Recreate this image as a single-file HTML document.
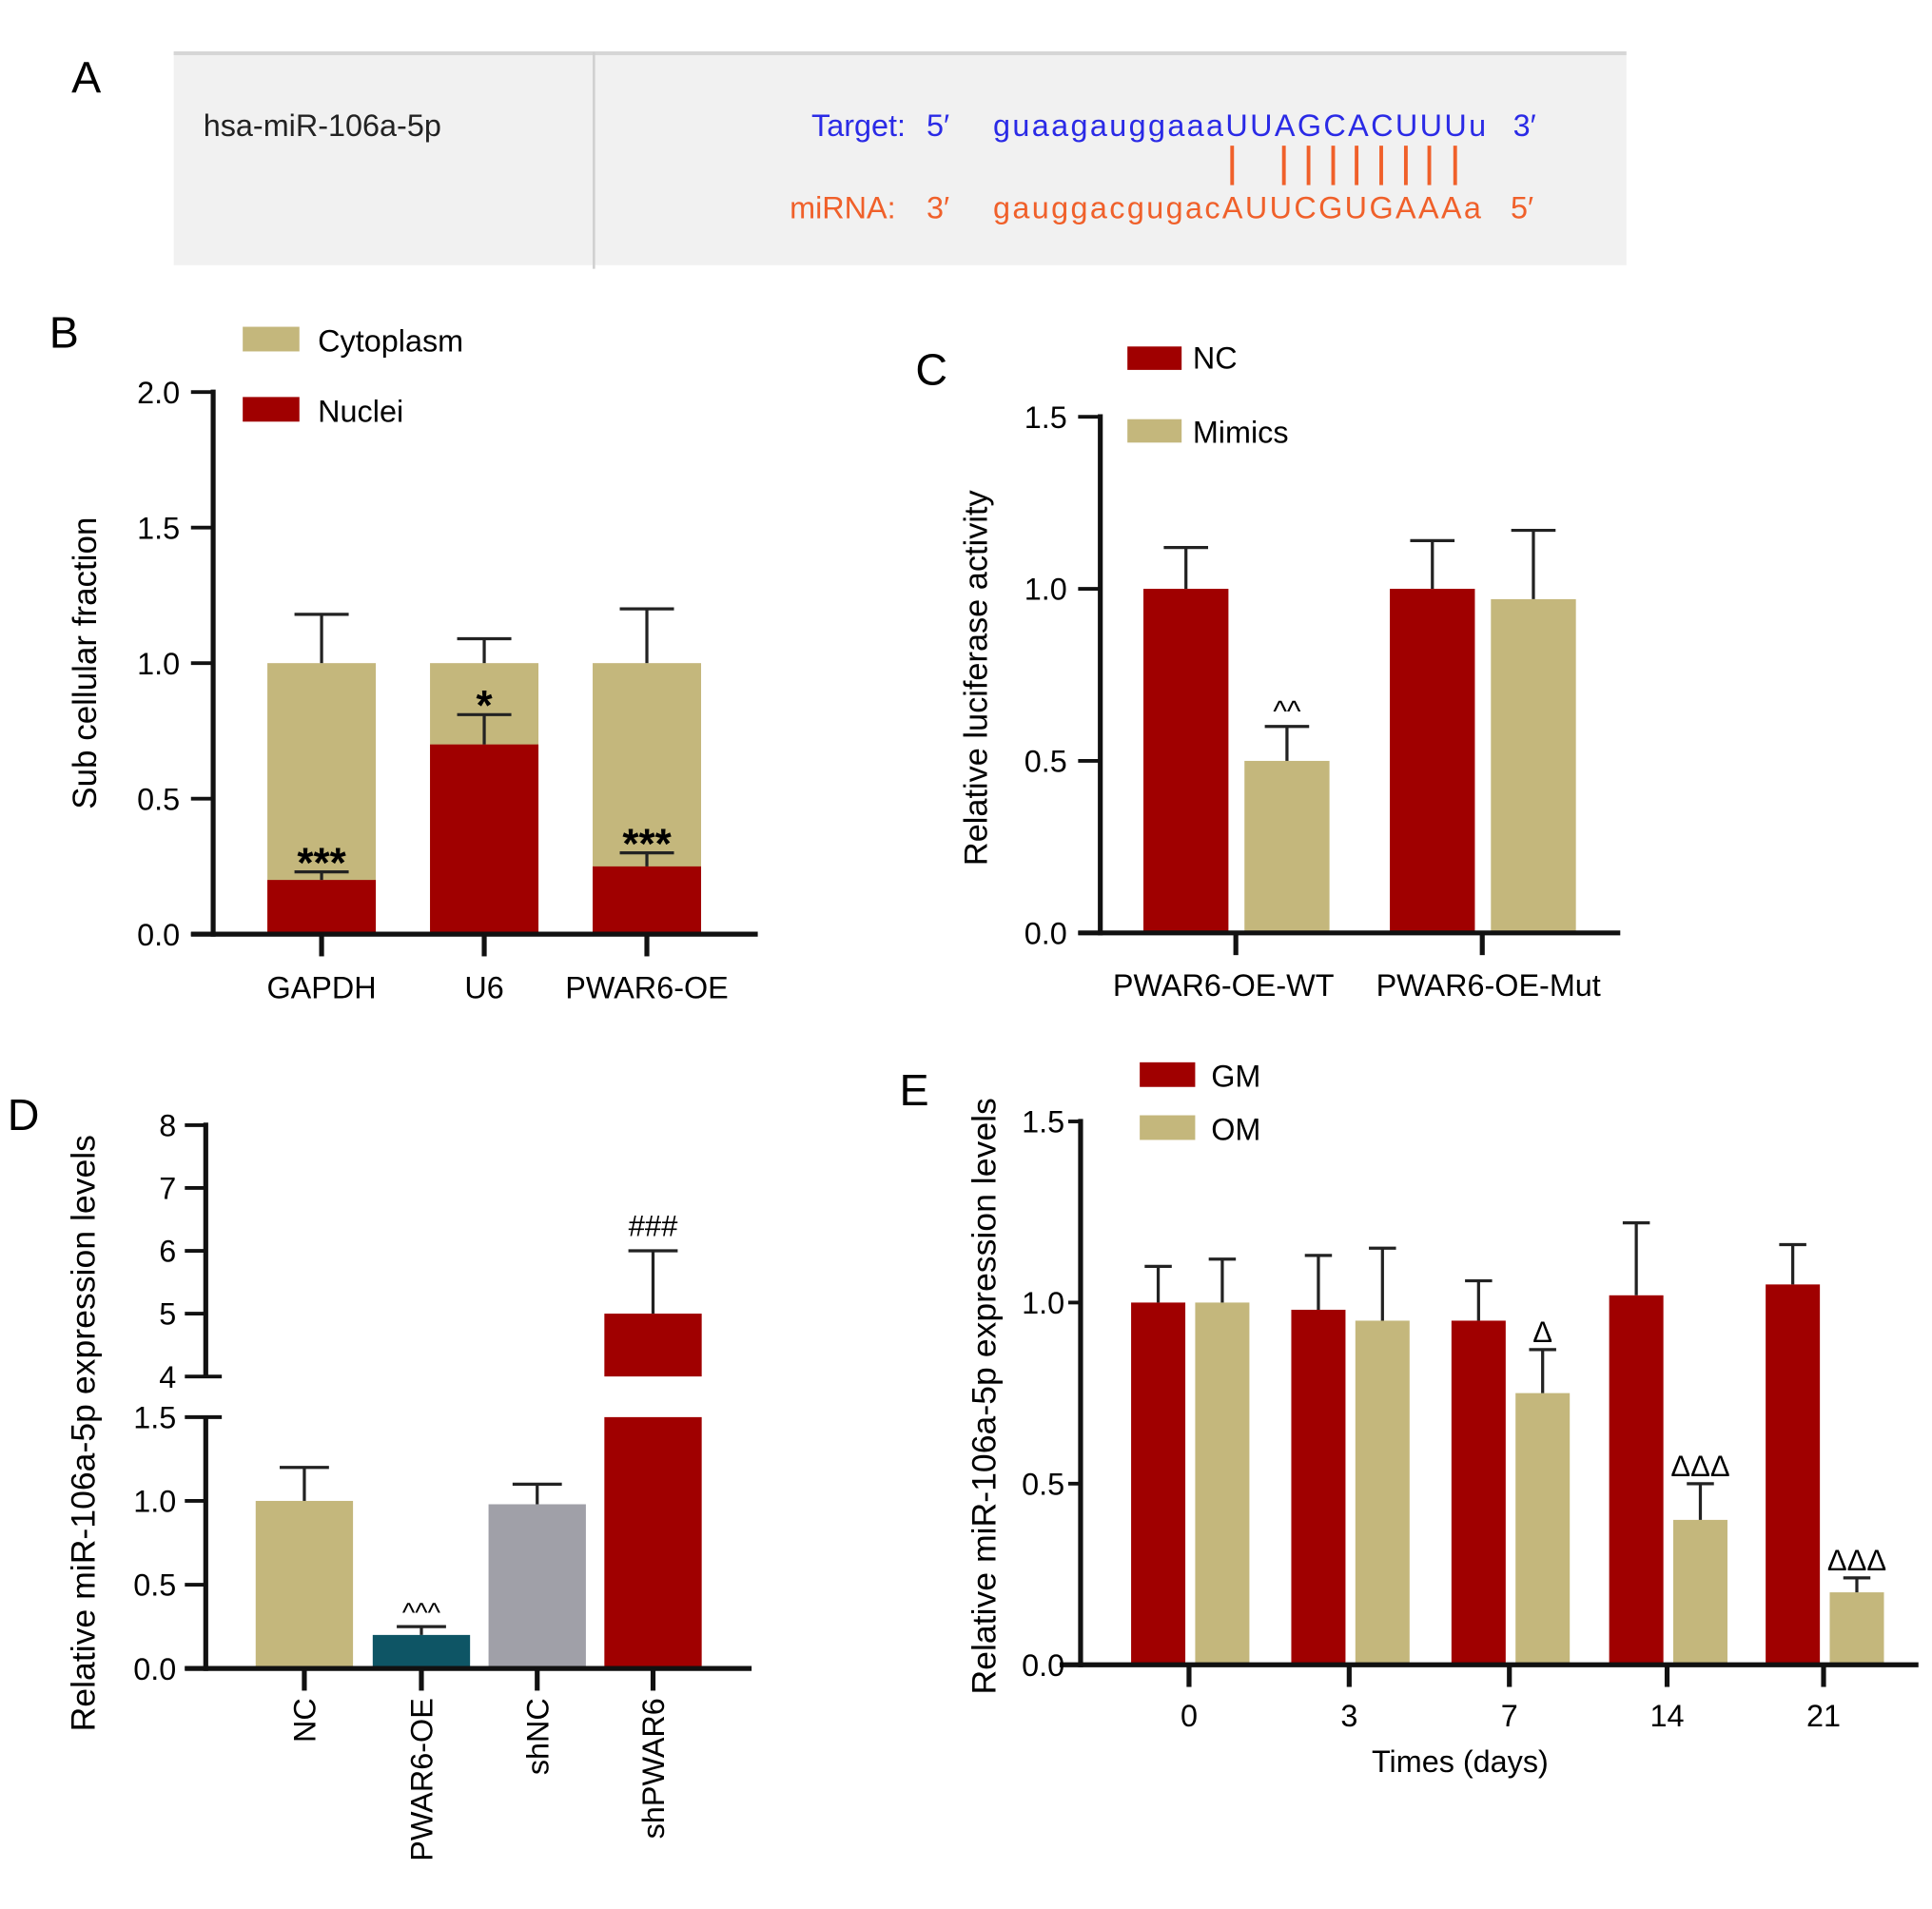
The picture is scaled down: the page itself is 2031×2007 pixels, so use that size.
<!DOCTYPE html>
<html><head><meta charset="utf-8">
<style>
html,body{margin:0;padding:0;background:#fff;}
svg{display:block;font-family:"Liberation Sans",Arial,sans-serif;}
</style></head>
<body>
<svg id="fig" width="2031" height="2007" viewBox="0 0 1568 1549" xmlns="http://www.w3.org/2000/svg">
<!-- Panel A -->
<g>
  <text x="58" y="75" font-size="36">A</text>
  <rect x="141" y="42" width="1179" height="173" fill="#f1f1f1"/>
  <line x1="141" y1="43" x2="1320" y2="43" stroke="#d6d6d6" stroke-width="3"/>
  <line x1="482" y1="42" x2="482" y2="218" stroke="#d0d0d0" stroke-width="2"/>
  <text x="165" y="110" font-size="25" fill="#222">hsa-miR-106a-5p</text>
  <g fill="#2a2ae6" font-size="25">
    <text x="735" y="110" text-anchor="end">Target:</text>
    <text x="752" y="110">5′</text>
    <text x="806" y="110" textLength="400">guaagauggaaaUUAGCACUUUu</text>
    <text x="1228" y="110">3′</text>
  </g>
  <g stroke="#f0602a" stroke-width="3">
    <line x1="1000" y1="118" x2="1000" y2="150"/><line x1="1042" y1="118" x2="1042" y2="150"/>
    <line x1="1062" y1="118" x2="1062" y2="150"/><line x1="1082" y1="118" x2="1082" y2="150"/>
    <line x1="1101" y1="118" x2="1101" y2="150"/><line x1="1121" y1="118" x2="1121" y2="150"/>
    <line x1="1141" y1="118" x2="1141" y2="150"/><line x1="1160" y1="118" x2="1160" y2="150"/>
    <line x1="1181" y1="118" x2="1181" y2="150"/>
  </g>
  <g fill="#f0602a" font-size="25">
    <text x="727" y="177" text-anchor="end">miRNA:</text>
    <text x="752" y="177">3′</text>
    <text x="806" y="177" textLength="396">gauggacgugacAUUCGUGAAAa</text>
    <text x="1226" y="177">5′</text>
  </g>
</g>
<g id="B"></g><g id="C"></g><g id="D"></g><g id="E"></g>
</svg>
<script>
// ---- data ----
const bCategories = ["GAPDH","U6","PWAR6-OE"];
const bCytoplasm = [1.0,1.0,1.0];
const bCytoErr = [1.18,1.09,1.20];
const bNuclei = [0.20,0.70,0.25];
const bNucErr = [0.23,0.81,0.30];
const bStars = ["***","*","***"];
const bTicks = ["0.0","0.5","1.0","1.5","2.0"];

const cCategories = ["PWAR6-OE-WT","PWAR6-OE-Mut"];
const cNC = [1.0,1.0];
const cNCErr = [1.12,1.14];
const cMimics = [0.50,0.97];
const cMimicsErr = [0.60,1.17];
const cMarks = ["^^",""];
const cTicks = ["0.0","0.5","1.0","1.5"];

const dCategories = ["NC","PWAR6-OE","shNC","shPWAR6"];
const dValues = [1.0,0.2,0.98,5.0];
const dErr = [1.2,0.25,1.1,6.0];
const dMarks = ["","^^^","","###"];
const dLowTicks = ["0.0","0.5","1.0","1.5"];
const dHighTicks = ["4","5","6","7","8"];

const eCategories = ["0","3","7","14","21"];
const eGM = [1.0,0.98,0.95,1.02,1.05];
const eGMErr = [1.10,1.13,1.06,1.22,1.16];
const eOM = [1.0,0.95,0.75,0.40,0.20];
const eOMErr = [1.12,1.15,0.87,0.50,0.24];
const eMarks = ["","","Δ","ΔΔΔ","ΔΔΔ"];
const eTicks = ["0.0","0.5","1.0","1.5"];

const RED="#a00000", TAN="#c4b77c", TEAL="#0e5565", GRAY="#a0a0a8";
const NS="http://www.w3.org/2000/svg";
function el(parent,tag,attrs,text){
  const e=document.createElementNS(NS,tag);
  for(const k in attrs) e.setAttribute(k,attrs[k]);
  if(text!==undefined) e.textContent=text;
  parent.appendChild(e); return e;
}
function errBar(g,x,y0,y1,cap){
  el(g,"line",{x1:x,y1:y0,x2:x,y2:y1,stroke:"#222","stroke-width":2.5});
  el(g,"line",{x1:x-cap/2,y1:y1,x2:x+cap/2,y2:y1,stroke:"#222","stroke-width":2.5});
}

// ---- Panel B ----
(function(){
  const g=document.getElementById("B");
  
  
  const y=v=>758-v*220;
  el(g,"text",{x:40,y:282,"font-size":36},"B");
  const centers=[261,393,525], w=88;
  bCategories.forEach((c,i)=>{
    const cx=centers[i];
    const r1=el(g,"rect",{x:cx-w/2,y:y(bCytoplasm[i]),width:w,height:y(0)-y(bCytoplasm[i]),fill:TAN});
    
    
    errBar(g,cx,y(bCytoplasm[i]),y(bCytoErr[i]),44);
    const r2=el(g,"rect",{x:cx-w/2,y:y(bNuclei[i]),width:w,height:y(0)-y(bNuclei[i]),fill:RED});
    
    
    errBar(g,cx,y(bNuclei[i]),y(bNucErr[i]),44);
    const s=el(g,"text",{x:cx,y:y(bNucErr[i])+4,"font-size":34,"font-weight":"bold","text-anchor":"middle"},bStars[i]);
    
    
    el(g,"line",{x1:cx,y1:758,x2:cx,y2:776,stroke:"#111","stroke-width":4});
    const t=el(g,"text",{x:cx,y:810,"font-size":25,"text-anchor":"middle"},c);
    
    
  });
  el(g,"line",{x1:173,y1:316,x2:173,y2:760,stroke:"#111","stroke-width":4});
  el(g,"line",{x1:155,y1:758,x2:615,y2:758,stroke:"#111","stroke-width":4});
  bTicks.forEach((t,i)=>{
    const v=parseFloat(t);
    el(g,"line",{x1:155,y1:y(v),x2:173,y2:y(v),stroke:"#111","stroke-width":3});
    el(g,"text",{x:146,y:y(v)+9,"font-size":25,"text-anchor":"end"},t);
  });
  const yt=el(g,"text",{x:0,y:0,"font-size":27,"text-anchor":"middle",transform:"translate(78,538) rotate(-90)"},"Sub cellular fraction");
  
  
  el(g,"rect",{x:197,y:265,width:46,height:20,fill:TAN});
  el(g,"text",{x:258,y:285,"font-size":25},"Cytoplasm");
  el(g,"rect",{x:197,y:322,width:46,height:20,fill:RED});
  el(g,"text",{x:258,y:342,"font-size":25},"Nuclei");
})();

// ---- Panel C ----
(function(){
  const g=document.getElementById("C");
  
  
  const y=v=>757-v*279.3;
  el(g,"text",{x:743,y:312,"font-size":36},"C");
  const centers=[1003,1203], w=69;
  cCategories.forEach((c,i)=>{
    const cx=centers[i];
    const x1=cx-75, x2=cx+7;
    const r1=el(g,"rect",{x:x1,y:y(cNC[i]),width:w,height:y(0)-y(cNC[i]),fill:RED});
    
    
    errBar(g,x1+w/2,y(cNC[i]),y(cNCErr[i]),36);
    const r2=el(g,"rect",{x:x2,y:y(cMimics[i]),width:w,height:y(0)-y(cMimics[i]),fill:TAN});
    
    
    errBar(g,x2+w/2,y(cMimics[i]),y(cMimicsErr[i]),36);
    if(cMarks[i]) el(g,"text",{x:x2+w/2,y:y(cMimicsErr[i])-4,"font-size":24,"text-anchor":"middle"},cMarks[i]);
    el(g,"line",{x1:cx,y1:757,x2:cx,y2:775,stroke:"#111","stroke-width":4});
    const t=el(g,"text",{x:cx-10+i*15,y:808,"font-size":25,"text-anchor":"middle"},c);
    
    
  });
  el(g,"line",{x1:893,y1:336,x2:893,y2:759,stroke:"#111","stroke-width":4});
  el(g,"line",{x1:875,y1:757,x2:1315,y2:757,stroke:"#111","stroke-width":4});
  cTicks.forEach(t=>{
    const v=parseFloat(t);
    el(g,"line",{x1:875,y1:y(v),x2:893,y2:y(v),stroke:"#111","stroke-width":3});
    el(g,"text",{x:866,y:y(v)+9,"font-size":25,"text-anchor":"end"},t);
  });
  const yt=el(g,"text",{x:0,y:0,"font-size":26.5,"text-anchor":"middle",transform:"translate(801,550) rotate(-90)"},"Relative luciferase activity");
  
  
  el(g,"rect",{x:915,y:281,width:44,height:19,fill:RED});
  el(g,"text",{x:968,y:299,"font-size":25},"NC");
  el(g,"rect",{x:915,y:340,width:44,height:19,fill:TAN});
  el(g,"text",{x:968,y:359,"font-size":25},"Mimics");
})();

// ---- Panel D ----
(function(){
  const g=document.getElementById("D");
  
  
  const yl=v=>1354-v*136;          // 0..1.5
  const yh=v=>1117-(v-4)*51;       // 4..8
  el(g,"text",{x:6,y:917,"font-size":36},"D");
  const centers=[247,342,436,530], w=79, colors=[TAN,TEAL,GRAY,RED];
  dCategories.forEach((c,i)=>{
    const cx=centers[i], v=dValues[i];
    if(v<=1.5){
      const r=el(g,"rect",{x:cx-w/2,y:yl(v),width:w,height:yl(0)-yl(v),fill:colors[i]});
      
      
      errBar(g,cx,yl(v),yl(dErr[i]),40);
      if(dMarks[i]) el(g,"text",{x:cx,y:yl(dErr[i])-4,"font-size":22,"text-anchor":"middle"},dMarks[i]);
    } else {
      const r=el(g,"rect",{x:cx-w/2,y:yl(1.5),width:w,height:yl(0)-yl(1.5),fill:colors[i]});
      
      
      const r2=el(g,"rect",{x:cx-w/2,y:yh(v),width:w,height:yh(4)-yh(v),fill:colors[i]});
      
      
      errBar(g,cx,yh(v),yh(dErr[i]),40);
      if(dMarks[i]) el(g,"text",{x:cx,y:yh(dErr[i])-12,"font-size":24,"text-anchor":"middle"},dMarks[i]);
    }
    el(g,"line",{x1:cx,y1:1354,x2:cx,y2:1372,stroke:"#111","stroke-width":4});
    const t=el(g,"text",{x:0,y:0,"font-size":25,"text-anchor":"end",transform:"translate("+(cx+9)+",1378) rotate(-90)"},c);
    
    
  });
  el(g,"line",{x1:167,y1:911,x2:167,y2:1118,stroke:"#111","stroke-width":4});
  el(g,"line",{x1:167,y1:1149,x2:167,y2:1356,stroke:"#111","stroke-width":4});
  el(g,"line",{x1:150,y1:1354,x2:610,y2:1354,stroke:"#111","stroke-width":4});
  dLowTicks.forEach(t=>{
    const v=parseFloat(t);
    el(g,"line",{x1:150,y1:yl(v),x2:(v===1.5?180:167),y2:yl(v),stroke:"#111","stroke-width":3});
    el(g,"text",{x:143,y:yl(v)+9,"font-size":25,"text-anchor":"end"},t);
  });
  dHighTicks.forEach(t=>{
    const v=parseFloat(t);
    el(g,"line",{x1:150,y1:yh(v),x2:(v===4?180:167),y2:yh(v),stroke:"#111","stroke-width":3});
    el(g,"text",{x:143,y:yh(v)+9,"font-size":25,"text-anchor":"end"},t);
  });
  const yt=el(g,"text",{x:0,y:0,"font-size":27.5,"text-anchor":"middle",transform:"translate(77,1163) rotate(-90)"},"Relative miR-106a-5p expression levels");
  
  
})();

// ---- Panel E ----
(function(){
  const g=document.getElementById("E");
  
  
  const y=v=>1351-v*294;
  el(g,"text",{x:730,y:897,"font-size":36},"E");
  const centers=[965,1095,1225,1353,1480], w=44;
  eCategories.forEach((c,i)=>{
    const cx=centers[i];
    const x1=cx-47, x2=cx+5;
    const r1=el(g,"rect",{x:x1,y:y(eGM[i]),width:w,height:y(0)-y(eGM[i]),fill:RED});
    
    
    errBar(g,x1+w/2,y(eGM[i]),y(eGMErr[i]),22);
    const r2=el(g,"rect",{x:x2,y:y(eOM[i]),width:w,height:y(0)-y(eOM[i]),fill:TAN});
    
    
    errBar(g,x2+w/2,y(eOM[i]),y(eOMErr[i]),22);
    if(eMarks[i]) el(g,"text",{x:x2+w/2,y:y(eOMErr[i])-6,"font-size":24,"text-anchor":"middle"},eMarks[i]);
    el(g,"line",{x1:cx,y1:1351,x2:cx,y2:1369,stroke:"#111","stroke-width":4});
    const t=el(g,"text",{x:cx,y:1401,"font-size":25,"text-anchor":"middle"},c);
    
    
  });
  el(g,"line",{x1:877,y1:908,x2:877,y2:1353,stroke:"#111","stroke-width":4});
  el(g,"line",{x1:860,y1:1351,x2:1557,y2:1351,stroke:"#111","stroke-width":4});
  eTicks.forEach(t=>{
    const v=parseFloat(t);
    el(g,"line",{x1:867,y1:y(v),x2:877,y2:y(v),stroke:"#111","stroke-width":3});
    el(g,"text",{x:864,y:y(v)+9,"font-size":25,"text-anchor":"end"},t);
  });
  const xt=el(g,"text",{x:1185,y:1438,"font-size":25,"text-anchor":"middle"},"Times (days)");
  
  
  const yt=el(g,"text",{x:0,y:0,"font-size":27.5,"text-anchor":"middle",transform:"translate(808,1133) rotate(-90)"},"Relative miR-106a-5p expression levels");
  
  
  el(g,"rect",{x:925,y:862,width:45,height:20,fill:RED});
  el(g,"text",{x:983,y:882,"font-size":25},"GM");
  el(g,"rect",{x:925,y:905,width:45,height:20,fill:TAN});
  el(g,"text",{x:983,y:925,"font-size":25},"OM");
})();
</script>
</body></html>
